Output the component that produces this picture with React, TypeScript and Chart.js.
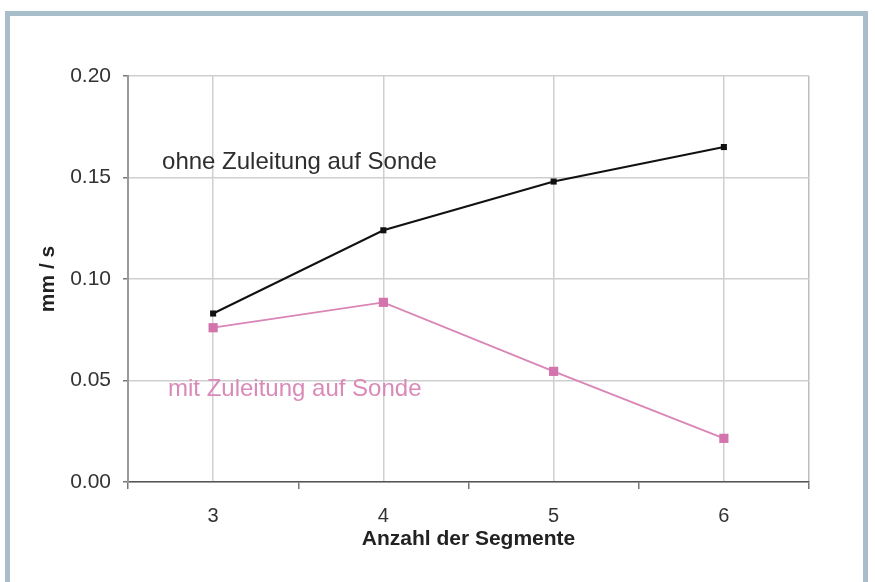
import React, { useEffect, useRef } from "react";
import { Chart, registerables } from "chart.js";

Chart.register(...registerables);

const segments = [3, 4, 5, 6];
const ohneZuleitung = [0.083, 0.124, 0.148, 0.165];
const mitZuleitung = [0.076, 0.0885, 0.0545, 0.0215];
const yTicks = [0, 0.05, 0.1, 0.15, 0.2];
const seriesLabels = ["ohne Zuleitung auf Sonde", "mit Zuleitung auf Sonde"];

const FONT = "'Liberation Sans', Arial, sans-serif";

const annotations = [
  { text: seriesLabels[0], x: 2.7, y: 0.1575, color: "#2e2e2e" },
  { text: seriesLabels[1], x: 2.735, y: 0.0455, color: "#d98ab9" },
];

const labelPlugin = {
  id: "seriesLabels",
  afterDatasetsDraw(chart: any) {
    const { ctx, scales } = chart;
    ctx.save();
    ctx.font = `24px ${FONT}`;
    ctx.textAlign = "left";
    ctx.textBaseline = "middle";
    for (const a of annotations) {
      ctx.fillStyle = a.color;
      ctx.fillText(a.text, scales.x.getPixelForValue(a.x), scales.y.getPixelForValue(a.y));
    }
    ctx.restore();
  },
};

export default function App() {
  const ref = useRef<HTMLCanvasElement>(null);

  useEffect(() => {
    if (!ref.current) return;
    const chart = new Chart(ref.current, {
      type: "line",
      data: {
        datasets: [
          {
            label: seriesLabels[0],
            data: segments.map((s, i) => ({ x: s, y: ohneZuleitung[i] })),
            borderColor: "#111111",
            backgroundColor: "#111111",
            borderWidth: 2,
            pointStyle: "rect",
            pointRadius: 4.3,
            pointBorderWidth: 0,
          },
          {
            label: seriesLabels[1],
            data: segments.map((s, i) => ({ x: s, y: mitZuleitung[i] })),
            borderColor: "#d985b6",
            backgroundColor: "#d474ac",
            borderWidth: 1.8,
            pointStyle: "rect",
            pointRadius: 6.5,
            pointBorderWidth: 0,
          },
        ],
      },
      options: {
        responsive: false,
        animation: false,
        layout: { padding: { left: 32, right: 66, top: 76, bottom: 26 } },
        plugins: { legend: { display: false }, tooltip: { enabled: false } },
        scales: {
          x: {
            type: "linear",
            min: 2.5,
            max: 6.5,
            afterBuildTicks(scale: any) {
              const t: any[] = [];
              for (let v = 2.5; v <= 6.5 + 1e-9; v += 0.5) t.push({ value: v });
              scale.ticks = t;
            },
            afterFit(scale: any) {
              scale.height = 74;
            },
            ticks: {
              autoSkip: false,
              maxRotation: 0,
              padding: 15,
              color: "#333333",
              font: { family: FONT, size: 20 },
              callback: (v: any) => (Number.isInteger(v) ? String(v) : ""),
            },
            grid: {
              lineWidth: 1.5,
              tickLength: 7,
              color: (c: any) => {
                const v = c.tick ? c.tick.value : 0;
                if (v === 6.5) return "#bdbdbd";
                return Number.isInteger(v) ? "#cfcfcf" : "rgba(0,0,0,0)";
              },
              tickColor: (c: any) => {
                const v = c.tick ? c.tick.value : 0;
                return Number.isInteger(v) ? "rgba(0,0,0,0)" : "#777777";
              },
            },
            border: { color: "#555555", width: 1.5 },
            title: {
              display: true,
              text: "Anzahl der Segmente",
              color: "#222222",
              font: { family: FONT, size: 21, weight: "bold" },
            },
          },
          y: {
            min: 0,
            max: 0.2,
            afterBuildTicks(scale: any) {
              scale.ticks = yTicks.map((v) => ({ value: v }));
            },
            afterFit(scale: any) {
              scale.width = 96;
            },
            ticks: {
              padding: 12,
              color: "#333333",
              font: { family: FONT, size: 21 },
              callback: (v: any) => Number(v).toFixed(2),
            },
            grid: {
              lineWidth: 1.5,
              tickLength: 5,
              color: "#cfcfcf",
              tickColor: "#777777",
            },
            border: { color: "#999999", width: 2 },
            title: {
              display: true,
              text: "mm / s",
              color: "#222222",
              font: { family: FONT, size: 21, weight: "bold" },
            },
          },
        },
      },
      plugins: [labelPlugin],
    });
    return () => chart.destroy();
  }, []);

  return (
    <div
      style={{
        position: "fixed",
        left: 0,
        top: 0,
        width: 875,
        height: 582,
        overflow: "hidden",
        background: "#ffffff",
      }}
    >
      <div
        style={{
          position: "absolute",
          left: 5,
          top: 11,
          width: 853,
          height: 620,
          border: "5px solid #a8bfcb",
          background: "#ffffff",
        }}
      />
      <canvas
        ref={ref}
        width={875}
        height={582}
        style={{ position: "absolute", left: 0, top: 0, width: 875, height: 582 }}
      />
    </div>
  );
}
